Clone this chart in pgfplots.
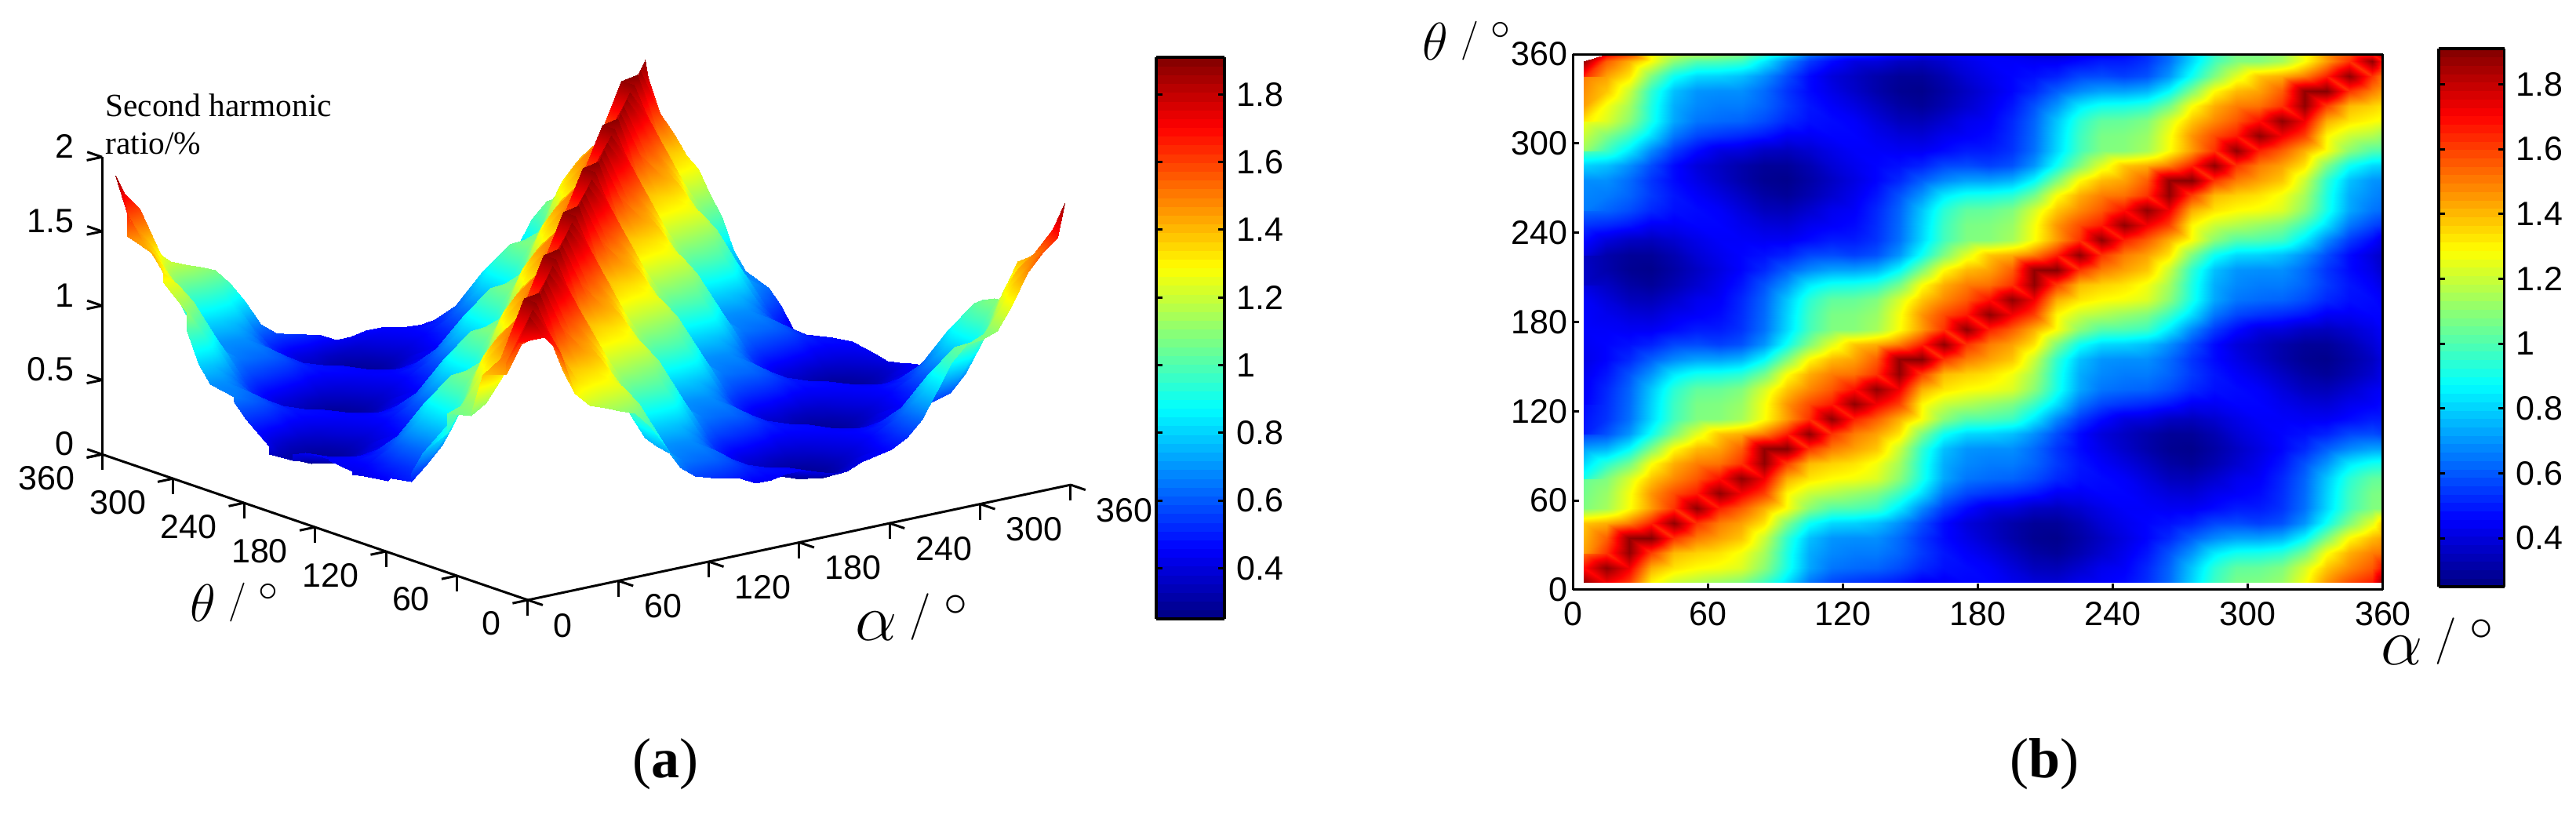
\documentclass[border=0pt]{standalone}
\usepackage{fontspec}
\setmainfont{Liberation Sans}
\newfontfamily\serifbook{Liberation Serif}
\usepackage{graphicx}
\usepackage{pgfplots}
\usepackage{pgfplotstable}
\pgfplotsset{compat=1.18}

% second harmonic ratio on a 10 degree grid
% one line per theta (5,15,...,355,360), alpha runs 5,15,...,355,360
\pgfplotstableread[row sep=\\,header=false]{
1.88\\1.72\\1.60\\1.30\\1.20\\1.16\\1.12\\1.08\\0.97\\0.82\\0.65\\0.57\\0.54\\0.52\\0.49\\0.44\\0.44\\0.46\\0.46\\0.43\\0.40\\0.39\\0.43\\0.45\\0.47\\0.53\\0.63\\0.80\\0.97\\1.07\\1.08\\1.12\\1.27\\1.46\\1.58\\1.66\\1.88\\
1.68\\1.88\\1.72\\1.42\\1.33\\1.29\\1.27\\1.23\\1.10\\0.91\\0.73\\0.65\\0.63\\0.62\\0.58\\0.52\\0.48\\0.47\\0.45\\0.40\\0.35\\0.34\\0.38\\0.43\\0.45\\0.52\\0.62\\0.78\\0.94\\1.03\\1.04\\1.08\\1.22\\1.38\\1.48\\1.56\\1.68\\
1.52\\1.62\\1.88\\1.60\\1.40\\1.36\\1.33\\1.27\\1.14\\0.92\\0.74\\0.68\\0.66\\0.66\\0.62\\0.55\\0.49\\0.45\\0.41\\0.36\\0.31\\0.29\\0.33\\0.38\\0.43\\0.49\\0.59\\0.70\\0.84\\0.90\\0.91\\0.94\\1.06\\1.28\\1.42\\1.50\\1.52\\
1.44\\1.55\\1.88\\1.90\\1.62\\1.50\\1.44\\1.38\\1.20\\0.95\\0.77\\0.70\\0.69\\0.69\\0.63\\0.54\\0.47\\0.42\\0.37\\0.32\\0.28\\0.27\\0.31\\0.36\\0.41\\0.46\\0.52\\0.61\\0.68\\0.72\\0.72\\0.75\\0.87\\1.08\\1.29\\1.40\\1.44\\
1.38\\1.42\\1.50\\1.65\\1.88\\1.62\\1.50\\1.44\\1.33\\1.08\\0.89\\0.81\\0.80\\0.77\\0.69\\0.58\\0.47\\0.40\\0.36\\0.32\\0.29\\0.29\\0.33\\0.39\\0.43\\0.46\\0.48\\0.51\\0.57\\0.58\\0.56\\0.59\\0.70\\0.89\\1.08\\1.24\\1.38\\
1.09\\1.14\\1.28\\1.45\\1.62\\1.88\\1.65\\1.55\\1.42\\1.28\\1.10\\1.01\\1.00\\0.97\\0.84\\0.68\\0.55\\0.47\\0.41\\0.40\\0.36\\0.35\\0.38\\0.42\\0.45\\0.45\\0.44\\0.44\\0.47\\0.50\\0.50\\0.54\\0.64\\0.81\\0.98\\1.08\\1.09\\
1.08\\1.12\\1.27\\1.46\\1.58\\1.66\\1.88\\1.72\\1.60\\1.30\\1.20\\1.16\\1.12\\1.08\\0.97\\0.82\\0.65\\0.57\\0.54\\0.52\\0.49\\0.44\\0.44\\0.46\\0.46\\0.43\\0.40\\0.39\\0.43\\0.45\\0.47\\0.53\\0.63\\0.80\\0.97\\1.07\\1.08\\
1.04\\1.08\\1.22\\1.38\\1.48\\1.56\\1.68\\1.88\\1.72\\1.42\\1.33\\1.29\\1.27\\1.23\\1.10\\0.91\\0.73\\0.65\\0.63\\0.62\\0.58\\0.52\\0.48\\0.47\\0.45\\0.40\\0.35\\0.34\\0.38\\0.43\\0.45\\0.52\\0.62\\0.78\\0.94\\1.03\\1.04\\
0.91\\0.94\\1.06\\1.28\\1.42\\1.50\\1.52\\1.62\\1.88\\1.60\\1.40\\1.36\\1.33\\1.27\\1.14\\0.92\\0.74\\0.68\\0.66\\0.66\\0.62\\0.55\\0.49\\0.45\\0.41\\0.36\\0.31\\0.29\\0.33\\0.38\\0.43\\0.49\\0.59\\0.70\\0.84\\0.90\\0.91\\
0.72\\0.75\\0.87\\1.08\\1.29\\1.40\\1.44\\1.55\\1.88\\1.90\\1.62\\1.50\\1.44\\1.38\\1.20\\0.95\\0.77\\0.70\\0.69\\0.69\\0.63\\0.54\\0.47\\0.42\\0.37\\0.32\\0.28\\0.27\\0.31\\0.36\\0.41\\0.46\\0.52\\0.61\\0.68\\0.72\\0.72\\
0.56\\0.59\\0.70\\0.89\\1.08\\1.24\\1.38\\1.42\\1.50\\1.65\\1.88\\1.62\\1.50\\1.44\\1.33\\1.08\\0.89\\0.81\\0.80\\0.77\\0.69\\0.58\\0.47\\0.40\\0.36\\0.32\\0.29\\0.29\\0.33\\0.39\\0.43\\0.46\\0.48\\0.51\\0.57\\0.58\\0.56\\
0.50\\0.54\\0.64\\0.81\\0.98\\1.08\\1.09\\1.14\\1.28\\1.45\\1.62\\1.88\\1.65\\1.55\\1.42\\1.28\\1.10\\1.01\\1.00\\0.97\\0.84\\0.68\\0.55\\0.47\\0.41\\0.40\\0.36\\0.35\\0.38\\0.42\\0.45\\0.45\\0.44\\0.44\\0.47\\0.50\\0.50\\
0.47\\0.53\\0.63\\0.80\\0.97\\1.07\\1.08\\1.12\\1.27\\1.46\\1.58\\1.66\\1.88\\1.72\\1.60\\1.30\\1.20\\1.16\\1.12\\1.08\\0.97\\0.82\\0.65\\0.57\\0.54\\0.52\\0.49\\0.44\\0.44\\0.46\\0.46\\0.43\\0.40\\0.39\\0.43\\0.45\\0.47\\
0.45\\0.52\\0.62\\0.78\\0.94\\1.03\\1.04\\1.08\\1.22\\1.38\\1.48\\1.56\\1.68\\1.88\\1.72\\1.42\\1.33\\1.29\\1.27\\1.23\\1.10\\0.91\\0.73\\0.65\\0.63\\0.62\\0.58\\0.52\\0.48\\0.47\\0.45\\0.40\\0.35\\0.34\\0.38\\0.43\\0.45\\
0.43\\0.49\\0.59\\0.70\\0.84\\0.90\\0.91\\0.94\\1.06\\1.28\\1.42\\1.50\\1.52\\1.62\\1.88\\1.60\\1.40\\1.36\\1.33\\1.27\\1.14\\0.92\\0.74\\0.68\\0.66\\0.66\\0.62\\0.55\\0.49\\0.45\\0.41\\0.36\\0.31\\0.29\\0.33\\0.38\\0.43\\
0.41\\0.46\\0.52\\0.61\\0.68\\0.72\\0.72\\0.75\\0.87\\1.08\\1.29\\1.40\\1.44\\1.55\\1.88\\1.90\\1.62\\1.50\\1.44\\1.38\\1.20\\0.95\\0.77\\0.70\\0.69\\0.69\\0.63\\0.54\\0.47\\0.42\\0.37\\0.32\\0.28\\0.27\\0.31\\0.36\\0.41\\
0.43\\0.46\\0.48\\0.51\\0.57\\0.58\\0.56\\0.59\\0.70\\0.89\\1.08\\1.24\\1.38\\1.42\\1.50\\1.65\\1.88\\1.62\\1.50\\1.44\\1.33\\1.08\\0.89\\0.81\\0.80\\0.77\\0.69\\0.58\\0.47\\0.40\\0.36\\0.32\\0.29\\0.29\\0.33\\0.39\\0.43\\
0.45\\0.45\\0.44\\0.44\\0.47\\0.50\\0.50\\0.54\\0.64\\0.81\\0.98\\1.08\\1.09\\1.14\\1.28\\1.45\\1.62\\1.88\\1.65\\1.55\\1.42\\1.28\\1.10\\1.01\\1.00\\0.97\\0.84\\0.68\\0.55\\0.47\\0.41\\0.40\\0.36\\0.35\\0.38\\0.42\\0.45\\
0.46\\0.43\\0.40\\0.39\\0.43\\0.45\\0.47\\0.53\\0.63\\0.80\\0.97\\1.07\\1.08\\1.12\\1.27\\1.46\\1.58\\1.66\\1.88\\1.72\\1.60\\1.30\\1.20\\1.16\\1.12\\1.08\\0.97\\0.82\\0.65\\0.57\\0.54\\0.52\\0.49\\0.44\\0.44\\0.46\\0.46\\
0.45\\0.40\\0.35\\0.34\\0.38\\0.43\\0.45\\0.52\\0.62\\0.78\\0.94\\1.03\\1.04\\1.08\\1.22\\1.38\\1.48\\1.56\\1.68\\1.88\\1.72\\1.42\\1.33\\1.29\\1.27\\1.23\\1.10\\0.91\\0.73\\0.65\\0.63\\0.62\\0.58\\0.52\\0.48\\0.47\\0.45\\
0.41\\0.36\\0.31\\0.29\\0.33\\0.38\\0.43\\0.49\\0.59\\0.70\\0.84\\0.90\\0.91\\0.94\\1.06\\1.28\\1.42\\1.50\\1.52\\1.62\\1.88\\1.60\\1.40\\1.36\\1.33\\1.27\\1.14\\0.92\\0.74\\0.68\\0.66\\0.66\\0.62\\0.55\\0.49\\0.45\\0.41\\
0.37\\0.32\\0.28\\0.27\\0.31\\0.36\\0.41\\0.46\\0.52\\0.61\\0.68\\0.72\\0.72\\0.75\\0.87\\1.08\\1.29\\1.40\\1.44\\1.55\\1.88\\1.90\\1.62\\1.50\\1.44\\1.38\\1.20\\0.95\\0.77\\0.70\\0.69\\0.69\\0.63\\0.54\\0.47\\0.42\\0.37\\
0.36\\0.32\\0.29\\0.29\\0.33\\0.39\\0.43\\0.46\\0.48\\0.51\\0.57\\0.58\\0.56\\0.59\\0.70\\0.89\\1.08\\1.24\\1.38\\1.42\\1.50\\1.65\\1.88\\1.62\\1.50\\1.44\\1.33\\1.08\\0.89\\0.81\\0.80\\0.77\\0.69\\0.58\\0.47\\0.40\\0.36\\
0.41\\0.40\\0.36\\0.35\\0.38\\0.42\\0.45\\0.45\\0.44\\0.44\\0.47\\0.50\\0.50\\0.54\\0.64\\0.81\\0.98\\1.08\\1.09\\1.14\\1.28\\1.45\\1.62\\1.88\\1.65\\1.55\\1.42\\1.28\\1.10\\1.01\\1.00\\0.97\\0.84\\0.68\\0.55\\0.47\\0.41\\
0.54\\0.52\\0.49\\0.44\\0.44\\0.46\\0.46\\0.43\\0.40\\0.39\\0.43\\0.45\\0.47\\0.53\\0.63\\0.80\\0.97\\1.07\\1.08\\1.12\\1.27\\1.46\\1.58\\1.66\\1.88\\1.72\\1.60\\1.30\\1.20\\1.16\\1.12\\1.08\\0.97\\0.82\\0.65\\0.57\\0.54\\
0.63\\0.62\\0.58\\0.52\\0.48\\0.47\\0.45\\0.40\\0.35\\0.34\\0.38\\0.43\\0.45\\0.52\\0.62\\0.78\\0.94\\1.03\\1.04\\1.08\\1.22\\1.38\\1.48\\1.56\\1.68\\1.88\\1.72\\1.42\\1.33\\1.29\\1.27\\1.23\\1.10\\0.91\\0.73\\0.65\\0.63\\
0.66\\0.66\\0.62\\0.55\\0.49\\0.45\\0.41\\0.36\\0.31\\0.29\\0.33\\0.38\\0.43\\0.49\\0.59\\0.70\\0.84\\0.90\\0.91\\0.94\\1.06\\1.28\\1.42\\1.50\\1.52\\1.62\\1.88\\1.60\\1.40\\1.36\\1.33\\1.27\\1.14\\0.92\\0.74\\0.68\\0.66\\
0.69\\0.69\\0.63\\0.54\\0.47\\0.42\\0.37\\0.32\\0.28\\0.27\\0.31\\0.36\\0.41\\0.46\\0.52\\0.61\\0.68\\0.72\\0.72\\0.75\\0.87\\1.08\\1.29\\1.40\\1.44\\1.55\\1.88\\1.90\\1.62\\1.50\\1.44\\1.38\\1.20\\0.95\\0.77\\0.70\\0.69\\
0.80\\0.77\\0.69\\0.58\\0.47\\0.40\\0.36\\0.32\\0.29\\0.29\\0.33\\0.39\\0.43\\0.46\\0.48\\0.51\\0.57\\0.58\\0.56\\0.59\\0.70\\0.89\\1.08\\1.24\\1.38\\1.42\\1.50\\1.65\\1.88\\1.62\\1.50\\1.44\\1.33\\1.08\\0.89\\0.81\\0.80\\
1.00\\0.97\\0.84\\0.68\\0.55\\0.47\\0.41\\0.40\\0.36\\0.35\\0.38\\0.42\\0.45\\0.45\\0.44\\0.44\\0.47\\0.50\\0.50\\0.54\\0.64\\0.81\\0.98\\1.08\\1.09\\1.14\\1.28\\1.45\\1.62\\1.88\\1.65\\1.55\\1.42\\1.28\\1.10\\1.01\\1.00\\
1.12\\1.08\\0.97\\0.82\\0.65\\0.57\\0.54\\0.52\\0.49\\0.44\\0.44\\0.46\\0.46\\0.43\\0.40\\0.39\\0.43\\0.45\\0.47\\0.53\\0.63\\0.80\\0.97\\1.07\\1.08\\1.12\\1.27\\1.46\\1.58\\1.66\\1.88\\1.72\\1.60\\1.30\\1.20\\1.16\\1.12\\
1.27\\1.23\\1.10\\0.91\\0.73\\0.65\\0.63\\0.62\\0.58\\0.52\\0.48\\0.47\\0.45\\0.40\\0.35\\0.34\\0.38\\0.43\\0.45\\0.52\\0.62\\0.78\\0.94\\1.03\\1.04\\1.08\\1.22\\1.38\\1.48\\1.56\\1.68\\1.88\\1.72\\1.42\\1.33\\1.29\\1.27\\
1.33\\1.27\\1.14\\0.92\\0.74\\0.68\\0.66\\0.66\\0.62\\0.55\\0.49\\0.45\\0.41\\0.36\\0.31\\0.29\\0.33\\0.38\\0.43\\0.49\\0.59\\0.70\\0.84\\0.90\\0.91\\0.94\\1.06\\1.28\\1.42\\1.50\\1.52\\1.62\\1.88\\1.60\\1.40\\1.36\\1.33\\
1.44\\1.38\\1.20\\0.95\\0.77\\0.70\\0.69\\0.69\\0.63\\0.54\\0.47\\0.42\\0.37\\0.32\\0.28\\0.27\\0.31\\0.36\\0.41\\0.46\\0.52\\0.61\\0.68\\0.72\\0.72\\0.75\\0.87\\1.08\\1.29\\1.40\\1.44\\1.55\\1.88\\1.90\\1.62\\1.50\\1.44\\
1.50\\1.44\\1.33\\1.08\\0.89\\0.81\\0.80\\0.77\\0.69\\0.58\\0.47\\0.40\\0.36\\0.32\\0.29\\0.29\\0.33\\0.39\\0.43\\0.46\\0.48\\0.51\\0.57\\0.58\\0.56\\0.59\\0.70\\0.89\\1.08\\1.24\\1.38\\1.42\\1.50\\1.65\\1.88\\1.62\\1.50\\
1.65\\1.55\\1.42\\1.28\\1.10\\1.01\\1.00\\0.97\\0.84\\0.68\\0.55\\0.47\\0.41\\0.40\\0.36\\0.35\\0.38\\0.42\\0.45\\0.45\\0.44\\0.44\\0.47\\0.50\\0.50\\0.54\\0.64\\0.81\\0.98\\1.08\\1.09\\1.14\\1.28\\1.45\\1.62\\1.88\\1.65\\
1.88\\1.72\\1.60\\1.30\\1.20\\1.16\\1.12\\1.08\\0.97\\0.82\\0.65\\0.57\\0.54\\0.52\\0.49\\0.44\\0.44\\0.46\\0.46\\0.43\\0.40\\0.39\\0.43\\0.45\\0.47\\0.53\\0.63\\0.80\\0.97\\1.07\\1.08\\1.12\\1.27\\1.46\\1.58\\1.66\\1.88\\
}\zdata

\pgfplotsset{
  every axis/.append style={colormap/jet,point meta min=0.25,point meta max=1.91},
  tlabel/.style={tick label style={font=\fontsize{21.5}{21.5}\selectfont},/pgf/number format/assume math mode=true},
  cbar/.style={hide axis,scale only axis,width=10pt,height=10pt,xmin=0,xmax=1,ymin=0,ymax=1,
    colorbar sampled,
    colorbar style={samples=65,at={(parent axis.south west)},anchor=south west,
      scale only axis,width=#1,ytick={0.4,0.6,0.8,1,1.2,1.4,1.6,1.8},
      ytick pos=both,yticklabel pos=right,tick align=inside,major tick length=4pt,
      tick style={black,line width=1.5pt},axis line style={line width=1.7pt},
      tlabel,yticklabel style={xshift=4pt}}},
}
% angle labels: symbol, its scale, slash raise, slash scale, raise of the degree sign
\newcommand\anglelabel[5]{{\fontsize{24.88}{25}\selectfont
  \scalebox{#2}{$#1$}\hspace{8pt}\raisebox{#3}{\scalebox{#4}{$/$}}\hspace{8pt}\raisebox{#5}{\scalebox{#4}{$\circ$}}}}

\begin{document}
\begin{tikzpicture}
\useasboundingbox (0pt,0pt) rectangle (1642pt,524pt);

% (a) surface
\begin{axis}[
  at={(336.5pt,141.5pt)},anchor=origin,
  x={(0.961pt,0.204pt)},y={(-0.754pt,0.258pt)},z={(0pt,94.75pt)},
  xmin=0,xmax=360,ymin=0,ymax=360,zmin=0,zmax=2,
  axis lines=left,axis line style={-,line width=1.5pt},
  z axis line style={draw=none},
  xtick={0,60,...,360},ytick={0,60,...,360},ztick=\empty,
  tick align=outside,major tick length=10pt,tick style={black,line width=1.5pt},
  tlabel,clip=false,
  xticklabel style={anchor=west,xshift=3.5pt,yshift=-13pt},
  yticklabel style={anchor=east,xshift=-4pt,yshift=-13pt},
]
\addplot3[surf,shader=interp,z buffer=sort,mesh/rows=37,mesh/cols=37]
  table[x index=0,y index=0,z index=0,x expr={min(360,5+10*mod(\coordindex,37))},y expr={min(360,5+10*floor(\coordindex/37))},z expr={\thisrowno{0}}]{\zdata};
\end{axis}

% (a) z axis stands at alpha=0, theta=360
\begin{axis}[
  at={(336.5pt,141.5pt)},anchor=origin,
  x={(0.961pt,0.204pt)},y={(0.754pt,-0.258pt)},z={(0pt,94.75pt)},
  xmin=0,xmax=360,ymin=-360,ymax=0,zmin=0,zmax=2,
  axis lines=left,axis line style={-,line width=1.5pt},
  x axis line style={draw=none},y axis line style={draw=none},
  xtick=\empty,ytick=\empty,ztick={0,0.5,1,1.5,2},
  tick align=outside,major tick length=10pt,tick style={black,line width=1.5pt},
  tlabel,clip=false,
  zticklabel style={anchor=east,xshift=-5pt,yshift=3.5pt},
]
\end{axis}

\begin{axis}[cbar=43.5pt,at={(728.5pt,129.5pt)},anchor=south west,
  colorbar style={height=358pt}]
\end{axis}

% (b) map
\begin{axis}[
  at={(1002.5pt,148pt)},anchor=south west,
  scale only axis,width=516.5pt,height=341.5pt,view={0}{90},
  xmin=0,xmax=360,ymin=0,ymax=360,
  xtick={0,60,...,360},ytick={0,60,...,360},
  xtick pos=bottom,ytick pos=left,
  tick align=inside,major tick length=4pt,tick style={black,line width=1.5pt},
  axis line style={line width=1.5pt},axis on top,
  tlabel,xticklabel style={yshift=-4pt},
]
\addplot3[surf,shader=interp,mesh/rows=37,mesh/cols=37]
  table[x index=0,y index=0,z index=0,x expr={min(360,5+10*mod(\coordindex,37))},y expr={min(360,5+10*floor(\coordindex/37))},z expr={\thisrowno{0}}]{\zdata};
\end{axis}

\begin{axis}[cbar=41.8pt,at={(1546pt,150pt)},anchor=south west,
  colorbar style={height=343pt}]
\end{axis}

% labels
\node[anchor=base west,inner sep=0pt,font=\serifbook\fontsize{20.7}{24}\selectfont] at (67pt,449.5pt) {Second harmonic};
\node[anchor=base west,inner sep=0pt,font=\serifbook\fontsize{20.7}{24}\selectfont] at (67pt,425.5pt) {ratio/\%};
\node[anchor=base west,inner sep=0pt] at (121pt,127.5pt) {\anglelabel{\theta}{1.36}{6pt}{1}{13pt}};
\node[anchor=base west,inner sep=0pt] at (545pt,115.5pt) {\anglelabel{\alpha}{1.7}{7.5pt}{1.2}{15.5pt}};
\node[anchor=base west,inner sep=0pt] at (906.5pt,485.5pt) {\anglelabel{\theta}{1.36}{6pt}{1}{13pt}};
\node[anchor=base west,inner sep=0pt] at (1517.5pt,100pt) {\anglelabel{\alpha}{1.7}{7.5pt}{1.2}{15.5pt}};
\node[font=\serifbook\fontsize{36}{36}\selectfont] at (424pt,37pt) {(\textbf{a})};
\node[font=\serifbook\fontsize{36}{36}\selectfont] at (1303pt,37pt) {(\textbf{b})};
\end{tikzpicture}
\end{document}
